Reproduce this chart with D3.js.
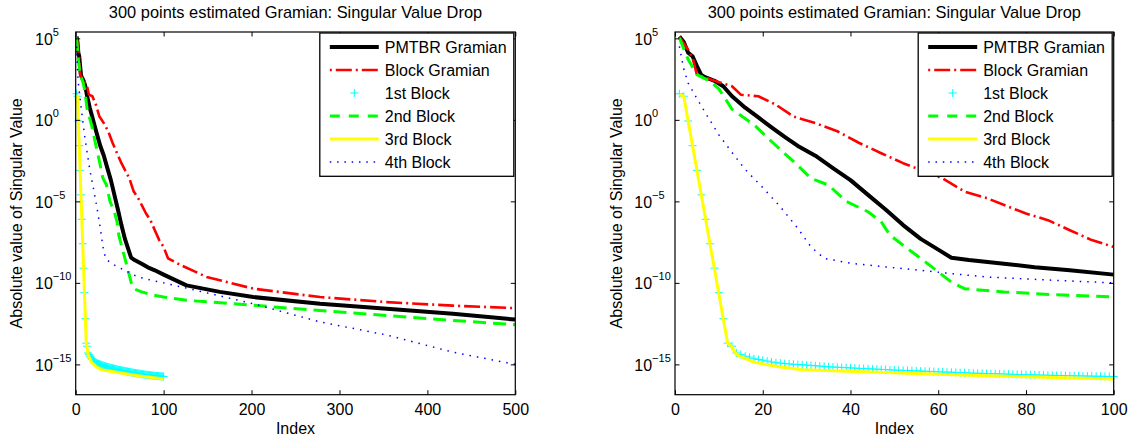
<!DOCTYPE html>
<html>
<head>
<meta charset="utf-8">
<script src="https://cdn.jsdelivr.net/npm/d3@7"></script>
<style>
  body { margin: 0; background: #fff; }
  svg { display: block; font-family: "Liberation Sans", Arial, Helvetica, sans-serif; }
</style>
</head>
<body>
<div id="chart"></div>
<script>
// Chart text
var titleText = "300 points estimated Gramian: Singular Value Drop";
var xLabelText = "Index";
var yLabelText = "Absolute value of Singular Value";
var legendNames = ["PMTBR Gramian", "Block Gramian", "1st Block", "2nd Block", "3rd Block", "4th Block"];

// Singular values: [index, value]
var pmtbrGramian = [
  [1, 1.3e5], [2, 6e4], [3, 1.3e4], [4, 8e3], [5, 2e3], [6, 560], [7, 400], [9, 250],
  [11, 115], [13, 28], [16, 5.6], [19, 1.4], [22, 0.35], [25, 0.09], [28, 0.025],
  [32, 6.3e-3], [36, 1.1e-3], [40, 2e-4], [44, 2.5e-5], [48, 3.2e-6], [52, 3.5e-7],
  [56, 5e-8], [60, 1.1e-8], [63, 3.5e-9], [67, 2.5e-9], [75, 1.5e-9], [82, 9e-10],
  [90, 5.9e-10], [100, 3.2e-10], [126, 7e-11], [164, 2.8e-11], [202, 1.35e-11],
  [278, 5.2e-12], [354, 2.6e-12], [429, 1.26e-12], [500, 5.6e-13]
];
var blockGramian = [
  [1, 1.2e5], [3, 2e4], [4, 6.3e3], [5, 600], [9, 250], [13, 115], [15, 35], [19, 28],
  [23, 8.5], [27, 1.6], [32, 0.63], [37, 0.2], [42, 0.038], [47, 9e-3], [52, 2.2e-3],
  [61, 2.6e-4], [66, 4e-5], [71, 1.6e-5], [76, 4.7e-6], [80, 1.8e-6], [85, 7e-7],
  [90, 1.7e-7], [95, 4.2e-8], [100, 1.6e-8], [105, 3.2e-9], [119, 1.26e-9],
  [149, 2.3e-10], [202, 4.4e-11], [278, 1.35e-11], [354, 6.6e-12], [429, 4e-12],
  [500, 2.8e-12]
];
// 1st Block: one marker per index 1..100
var firstBlock = [
  4.0e1, 2.8e1, 8.5e-1, 2.6e-2, 8e-4, 2.5e-5, 8e-7, 2.5e-8, 8e-10, 2.5e-11,
  6.3e-13, 2e-14, 1.3e-14, 5e-15, 4e-15, 3.2e-15, 2.8e-15, 2.2e-15, 2e-15, 1.8e-15,
  1.6e-15, 1.4e-15, 1.26e-15, 1.2e-15, 1.12e-15, 1.07e-15, 1.02e-15, 9.8e-16, 9.4e-16, 9e-16,
  8.6e-16, 8.2e-16, 7.9e-16, 7.6e-16, 7.1e-16, 6.9e-16, 6.7e-16, 6.5e-16, 6.3e-16, 6.1e-16,
  5.9e-16, 5.7e-16, 5.6e-16, 5.4e-16, 5.2e-16, 5.1e-16, 4.9e-16, 4.8e-16, 4.6e-16, 4.5e-16,
  4.4e-16, 4.3e-16, 4.2e-16, 4.1e-16, 4.0e-16, 3.9e-16, 3.8e-16, 3.7e-16, 3.6e-16, 3.5e-16,
  3.4e-16, 3.35e-16, 3.3e-16, 3.2e-16, 3.1e-16, 3.05e-16, 3.0e-16, 2.9e-16, 2.85e-16, 2.8e-16,
  2.75e-16, 2.7e-16, 2.65e-16, 2.6e-16, 2.55e-16, 2.5e-16, 2.45e-16, 2.4e-16, 2.37e-16, 2.33e-16,
  2.3e-16, 2.26e-16, 2.22e-16, 2.18e-16, 2.15e-16, 2.12e-16, 2.09e-16, 2.06e-16, 2.03e-16, 2.0e-16,
  1.98e-16, 1.96e-16, 1.94e-16, 1.92e-16, 1.9e-16, 1.88e-16, 1.86e-16, 1.84e-16, 1.82e-16, 1.8e-16
];
var secondBlock = [
  [1, 1.07e5], [3, 5e3], [5, 600], [8, 230], [10, 80], [13, 4.5], [18, 0.5], [22, 0.047],
  [27, 2.8e-3], [31, 2.6e-4], [35, 1e-4], [39, 1e-5], [44, 2.3e-6], [47, 5.6e-7],
  [49, 8.5e-8], [53, 1.26e-8], [56, 3.2e-9], [60, 4.7e-10], [63, 1.1e-10], [66, 4.4e-11],
  [75, 2.8e-11], [86, 1.9e-11], [100, 1.35e-11], [126, 8.5e-12], [202, 4.2e-12],
  [278, 2e-12], [354, 1e-12], [429, 5e-13], [500, 2.7e-13]
];
var thirdBlock = [
  [1, 35], [2, 28], [12, 2e-14], [13, 1.1e-14], [14, 4e-15], [18, 1.35e-15], [24, 7e-16],
  [29, 4.7e-16], [48, 3.2e-16], [71, 2e-16], [100, 1.26e-16]
];
var fourthBlock = [
  [1, 3.2e4], [2, 1.3e3], [3, 180], [5, 20], [7, 2.5], [10, 0.12], [13, 0.01], [16, 9e-4],
  [20, 7e-5], [24, 4.7e-6], [28, 2.2e-7], [31, 1.6e-8], [34, 3.2e-9], [40, 1.6e-9],
  [48, 9.5e-10], [56, 5.9e-10], [63, 3.7e-10], [71, 2.3e-10], [86, 1.45e-10], [100, 1e-10],
  [145, 2.75e-11], [202, 5.2e-12], [278, 4e-13], [354, 6.3e-14], [429, 5.6e-15], [500, 1e-15]
];

// Ticks and axis ranges
var xTicksLeft = [0, 100, 200, 300, 400, 500];
var xTicksRight = [0, 20, 40, 60, 80, 100];
var yTickValues = [1e-15, 1e-10, 1e-5, 1, 1e5];
var yDomain = [1.38e-17, 2.45e5];

// ---------------------------------------------------------------

var W = 1130, H = 438;
var fontSize = 16;

var styles = [
  {color: "#000000", width: 4, dash: null, legendDash: null},
  {color: "#ff0000", width: 2.6, dash: "16,4,2,4", legendDash: "16,4,2,4", legendOffset: 20},
  {color: "#00ffff", marker: true},
  {color: "#00ff00", width: 3, dash: "13,7", legendDash: "10,9"},
  {color: "#ffff00", width: 3, dash: null, legendDash: null},
  {color: "#0000ff", width: 1.5, dash: "1.5,6", legendDash: "1.5,5.8"}
];

var seriesData = [
  pmtbrGramian,
  blockGramian,
  firstBlock.map(function(v, i) { return [i + 1, v]; }),
  secondBlock,
  thirdBlock,
  fourthBlock
];

var panels = [
  {left: 75.7, width: 439.6, xMax: 500, xTicks: xTicksLeft},
  {left: 675, width: 438.7, xMax: 100, xTicks: xTicksRight}
];
var plotTop = 32, plotHeight = 362.7;

var svg = d3.select("#chart").append("svg")
  .attr("width", W)
  .attr("height", H);

function supText(d) {
  var e = Math.round(Math.log10(d));
  return e < 0 ? "\u2212" + (-e) : String(e);
}

function plusPath(px, py, r) {
  return "M" + (px - r) + "," + py + "H" + (px + r) + "M" + px + "," + (py - r) + "V" + (py + r);
}

panels.forEach(function(p, pi) {
  var g = svg.append("g")
    .attr("transform", "translate(" + p.left + "," + plotTop + ")");

  var xScale = d3.scaleLinear().domain([0, p.xMax]).range([0, p.width]);
  var yScale = d3.scaleLog().domain(yDomain).range([plotHeight, 0]);

  g.append("rect")
    .attr("width", p.width)
    .attr("height", plotHeight)
    .attr("fill", "#fff");

  var clipId = "clip" + pi;
  g.append("clipPath").attr("id", clipId)
    .append("rect").attr("width", p.width).attr("height", plotHeight);

  var line = d3.line()
    .x(function(d) { return xScale(d[0]); })
    .y(function(d) { return yScale(d[1]); });

  // data
  seriesData.forEach(function(data, si) {
    var st = styles[si];
    var pts = data.filter(function(d) { return d[0] <= p.xMax; });
    if (st.marker) {
      g.append("g")
        .selectAll("path")
        .data(pts)
        .enter().append("path")
        .attr("d", function(d) { return plusPath(xScale(d[0]), yScale(d[1]), 4); })
        .attr("stroke", st.color)
        .attr("stroke-width", 1)
        .attr("fill", "none");
    } else {
      g.append("path")
        .datum(pts)
        .attr("clip-path", "url(#" + clipId + ")")
        .attr("d", line)
        .attr("fill", "none")
        .attr("stroke", st.color)
        .attr("stroke-width", st.width)
        .attr("stroke-linejoin", "round")
        .attr("stroke-dasharray", st.dash);
    }
  });

  // axes: ticks pointing inward
  var xAxis = g.append("g")
    .attr("transform", "translate(0," + plotHeight + ")")
    .call(d3.axisBottom(xScale).tickValues(p.xTicks).tickSizeInner(-4.5).tickSizeOuter(0).tickPadding(9));
  g.append("g")
    .call(d3.axisTop(xScale).tickValues(p.xTicks).tickSizeInner(-4.5).tickSizeOuter(0).tickFormat(""));
  var yAxis = g.append("g")
    .call(d3.axisLeft(yScale).tickValues(yTickValues).tickSizeInner(-4.5).tickSizeOuter(0));
  g.append("g")
    .attr("transform", "translate(" + p.width + ",0)")
    .call(d3.axisRight(yScale).tickValues(yTickValues).tickSizeInner(-4.5).tickSizeOuter(0).tickFormat(""));

  g.selectAll(".domain").remove();
  g.selectAll(".tick line").attr("stroke", "#000").attr("stroke-width", 1);

  xAxis.selectAll("text")
    .attr("font-size", fontSize)
    .attr("font-family", null)
    .attr("fill", "#000");

  yAxis.selectAll("text")
    .attr("font-size", fontSize)
    .attr("font-family", null)
    .attr("fill", "#000")
    .attr("text-anchor", "start")
    .attr("x", -40.7)
    .attr("dy", "0.375em")
    .each(function(d) {
      var t = d3.select(this);
      t.text("10");
      t.append("tspan")
        .attr("font-size", 11)
        .attr("dy", -9)
        .text(supText(d));
    });

  g.append("rect")
    .attr("width", p.width)
    .attr("height", plotHeight)
    .attr("fill", "none")
    .attr("stroke", "#000")
    .attr("stroke-width", 1.2);

  // labels
  g.append("text")
    .attr("x", p.width / 2)
    .attr("y", -14)
    .attr("text-anchor", "middle")
    .attr("font-size", 16.4)
    .text(titleText);

  g.append("text")
    .attr("x", p.width / 2)
    .attr("y", plotHeight + 39.3)
    .attr("text-anchor", "middle")
    .attr("font-size", fontSize)
    .text(xLabelText);

  g.append("text")
    .attr("transform", "translate(-53.2," + (plotHeight / 2) + ") rotate(-90)")
    .attr("text-anchor", "middle")
    .attr("font-size", fontSize)
    .text(yLabelText);

  // legend
  var lw = 194, lh = 143.3;
  var leg = g.append("g")
    .attr("transform", "translate(" + (p.width - 1.5 - lw) + ",1)");
  leg.append("rect")
    .attr("width", lw)
    .attr("height", lh)
    .attr("fill", "#fff")
    .attr("stroke", "#000")
    .attr("stroke-width", 1.3);

  legendNames.forEach(function(name, i) {
    var st = styles[i];
    var cy = 14 + i * 23;
    if (st.marker) {
      leg.append("path")
        .attr("d", plusPath(34.5, cy, 4))
        .attr("stroke", st.color)
        .attr("stroke-width", 1)
        .attr("fill", "none");
    } else {
      leg.append("line")
        .attr("x1", 10).attr("x2", 59)
        .attr("y1", cy).attr("y2", cy)
        .attr("stroke", st.color)
        .attr("stroke-width", st.width)
        .attr("stroke-dasharray", st.legendDash)
        .attr("stroke-dashoffset", st.legendOffset || 0);
    }
    leg.append("text")
      .attr("x", 65)
      .attr("y", cy + 5.8)
      .attr("font-size", fontSize)
      .text(name);
  });
});
</script>
</body>
</html>
